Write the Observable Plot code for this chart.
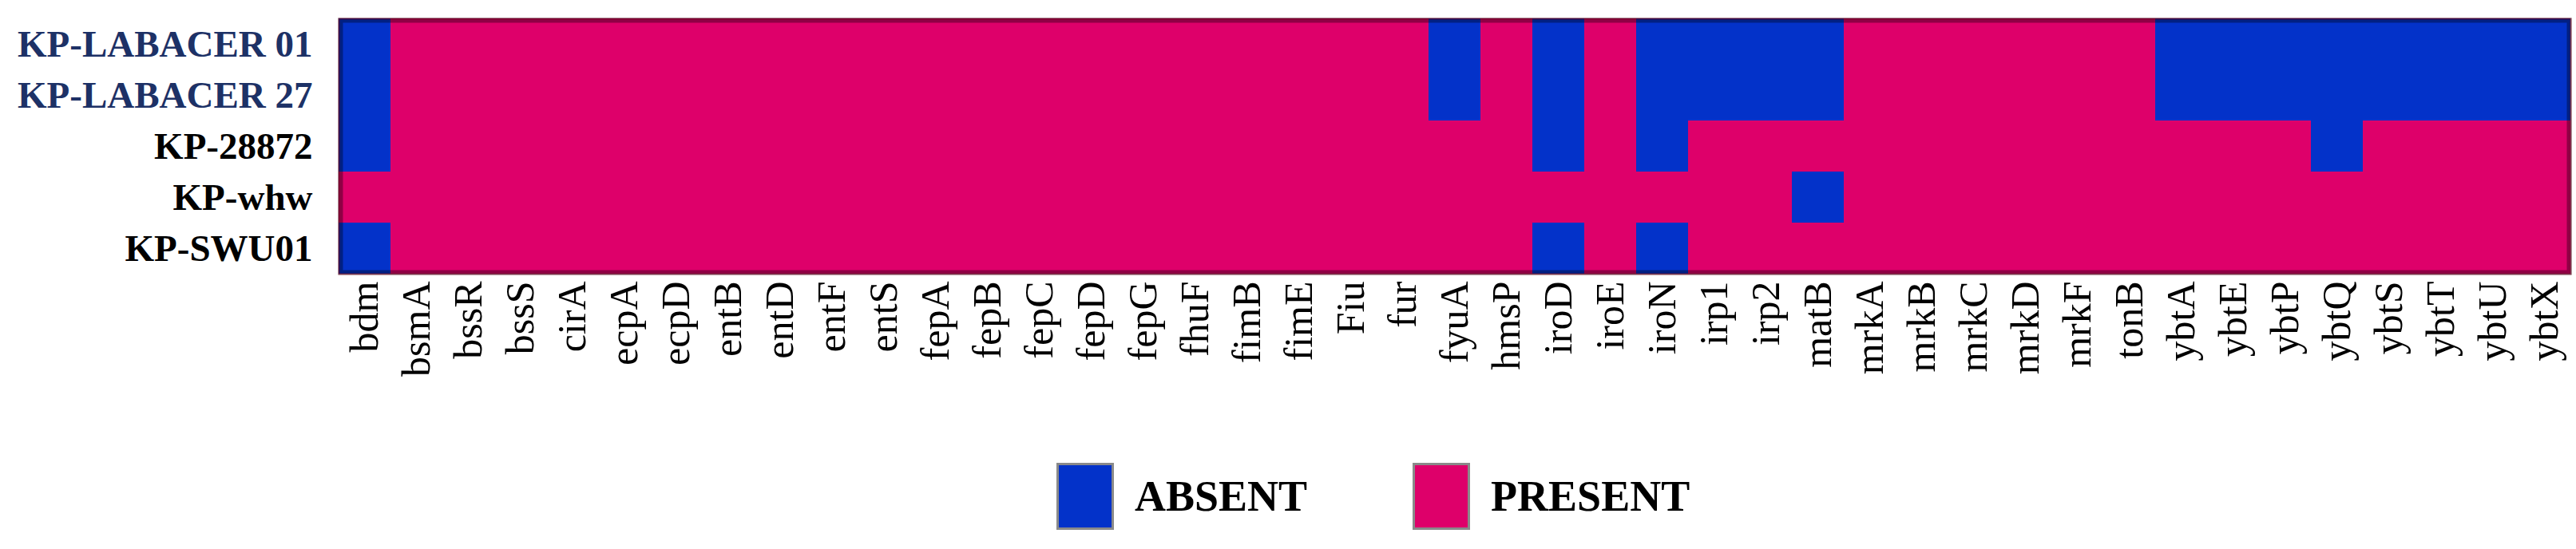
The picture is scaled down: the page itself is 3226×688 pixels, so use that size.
<!DOCTYPE html>
<html>
<head>
<meta charset="utf-8">
<script src="https://cdn.jsdelivr.net/npm/d3@7"></script>
<script src="https://cdn.jsdelivr.net/npm/@observablehq/plot@0.6"></script>
<style>
  html, body { margin: 0; padding: 0; background: #fff; }
  #chart svg { display: block; }
  .legend { display: flex; align-items: center; margin-left: 1323px; padding-top: 20px; font-family: "Liberation Serif", "Times New Roman", serif; font-weight: bold; font-size: 54px; color: #000; }
  .sw { width: 66px; height: 78px; border: 3px solid #8a8a8a; box-sizing: content-box; }
  .lab { margin-left: 26px; }
</style>
</head>
<body>
<div id="chart"></div>
<script>
const strains = ["KP-LABACER 01", "KP-LABACER 27", "KP-28872", "KP-whw", "KP-SWU01"];
const strainColors = ["#1d3166", "#1d3166", "#000000", "#000000", "#000000"];
const genes = ["bdm","bsmA","bssR","bssS","cirA","ecpA","ecpD","entB","entD","entF","entS",
  "fepA","fepB","fepC","fepD","fepG","fhuF","fimB","fimE","Fiu","fur","fyuA","hmsP",
  "iroD","iroE","iroN","irp1","irp2","matB","mrkA","mrkB","mrkC","mrkD","mrkF","tonB",
  "ybtA","ybtE","ybtP","ybtQ","ybtS","ybtT","ybtU","ybtX"];
const absentLABACER01 = ["bdm","fyuA","iroD","iroN","irp1","irp2","matB","ybtA","ybtE","ybtP","ybtQ","ybtS","ybtT","ybtU","ybtX"];
const absentLABACER27 = ["bdm","fyuA","iroD","iroN","irp1","irp2","matB","ybtA","ybtE","ybtP","ybtQ","ybtS","ybtT","ybtU","ybtX"];
const absent28872 = ["bdm","iroD","iroN","ybtQ"];
const absentWhw = ["matB"];
const absentSWU01 = ["bdm","iroD","iroN"];
const statusLabels = ["ABSENT", "PRESENT"];
const statusColors = ["#0332c9", "#de006a"];

const absentLists = [absentLABACER01, absentLABACER27, absent28872, absentWhw, absentSWU01];
const cells = [];
strains.forEach((s, i) => {
  genes.forEach(g => {
    cells.push({strain: s, gene: g, status: absentLists[i].includes(g) ? statusLabels[0] : statusLabels[1]});
  });
});

const W = 3226, H = 560;
const chart = Plot.plot({
  width: W,
  height: H,
  marginLeft: 423,
  marginRight: 6,
  marginTop: 22,
  marginBottom: 216,
  style: {fontFamily: "'Liberation Serif', 'Times New Roman', serif", background: "#fff", color: "#000"},
  x: {domain: genes, padding: 0, label: null},
  y: {domain: strains, padding: 0, label: null, axis: null},
  color: {domain: statusLabels, range: statusColors},
  marks: [
    Plot.cell(cells, {x: "gene", y: "strain", fill: "status", inset: 0}),
    Plot.frame({stroke: "#000", strokeOpacity: 0.35, strokeWidth: 6, inset: 3}),
    Plot.frame({stroke: "#6a0020", strokeOpacity: 0.6, strokeWidth: 2, inset: 1}),
    Plot.axisX({tickRotate: -90, tickSize: 0, tickPadding: 8, fontSize: 50, label: null, fill: "#000"}),
    Plot.text(strains, {
      y: d => d,
      frameAnchor: "left",
      textAnchor: "end",
      dx: -32,
      text: d => d,
      fill: d => strainColors[strains.indexOf(d)],
      fontSize: 47,
      fontWeight: "bold"
    })
  ]
});
document.getElementById("chart").appendChild(chart);

const legend = document.createElement("div");
legend.className = "legend";
statusLabels.forEach((lab, i) => {
  const sw = document.createElement("div");
  sw.className = "sw";
  sw.style.background = statusColors[i];
  if (i > 0) sw.style.marginLeft = "132px";
  const t = document.createElement("span");
  t.className = "lab";
  t.textContent = lab;
  legend.appendChild(sw);
  legend.appendChild(t);
});
document.body.appendChild(legend);
</script>
</body>
</html>
